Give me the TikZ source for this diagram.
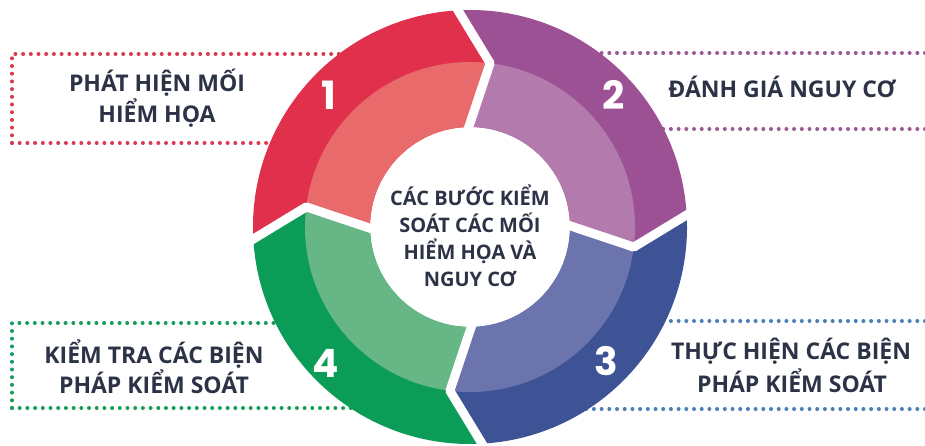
\documentclass[tikz,border=0pt]{standalone}
\usepackage{fontspec}
\setmainfont{Open Sans}
\newfontfamily\numfont{Poppins}
\definecolor{reddark}{HTML}{E0304C}
\definecolor{redlight}{HTML}{E86A6A}
\definecolor{purpdark}{HTML}{9C5194}
\definecolor{purplight}{HTML}{B37BAD}
\definecolor{bluedark}{HTML}{3E5396}
\definecolor{bluelight}{HTML}{6C74AD}
\definecolor{greendark}{HTML}{0B9D58}
\definecolor{greenlight}{HTML}{67B686}
\definecolor{reddot}{HTML}{D93A50}
\definecolor{purpdot}{HTML}{9C5A95}
\definecolor{bluedot}{HTML}{4C7FB4}
\definecolor{greendot}{HTML}{159E5B}
\definecolor{textcol}{HTML}{2C3346}
\begin{document}
\begin{tikzpicture}[x=1pt,y=1pt,
  dotline/.style={line width=4pt, dash pattern=on 0pt off 7.7pt, line cap=round},
  lbl/.style={font=\fontsize{23}{27}\selectfont\bfseries, text=textcol, anchor=base, inner sep=0pt},
  ctr/.style={font=\fontsize{20}{24}\selectfont\bfseries, text=textcol, anchor=base, inner sep=0pt},
  num/.style={font=\numfont\fontsize{39}{40}\selectfont\bfseries, text=white, anchor=base, inner sep=0pt},
  gapline/.style={white, line width=9pt, line join=round}]
\useasboundingbox (0,0) rectangle (925,445);
\clip (0,0) rectangle (925,445);
\fill[white] (0,0) rectangle (925,445);
% dotted boxes
\draw[dotline, reddot] (12,302) -- (12,391) -- (400,391);
\draw[dotline, reddot] (12,302) -- (400,302);
\draw[dotline, purpdot] (540,392) -- (930,392);
\draw[dotline, purpdot] (540,316) -- (930,316);
\draw[dotline, greendot] (12,37) -- (12,122) -- (400,122);
\draw[dotline, greendot] (12,37) -- (400,37);
\draw[dotline, bluedot] (540,124) -- (930,124);
\draw[dotline, bluedot] (540,36) -- (930,36);
% ring
\begin{scope}[shift={(470,218)}]
\foreach \s/\e/\dk/\lt in {184/94/reddark/redlight, 94/4/purpdark/purplight, 4/-86/bluedark/bluelight, 274/184/greendark/greenlight}{
  \fill[\dk] (\s:217) arc[start angle=\s, end angle=\e, radius=217] -- ({\e-11}:165) -- ({\e-2}:100) arc[start angle={\e-2}, end angle={\s-2}, radius=100] -- ({\s-11}:165) -- cycle;
  \begin{scope}
    \clip (0,0) circle (165);
    \fill[\lt] (\s:217) arc[start angle=\s, end angle=\e, radius=217] -- ({\e-11}:165) -- ({\e-2}:100) arc[start angle={\e-2}, end angle={\s-2}, radius=100] -- ({\s-11}:165) -- cycle;
  \end{scope}
}
\foreach \a in {94,4,-86,184}{
  \draw[gapline] (\a:223) -- ({\a-11}:165) -- ({\a-2}:94);
}
\end{scope}
% numbers
\node[num] (n1) at (329,335) {1};
\node[num] (n2) at (614,335) {2};
\node[num] (n3) at (606,70) {3};
\node[num] (n4) at (326,68) {4};
% centre text
\node[ctr] (c1) at (470,240) {CÁC BƯỚC KIỂM};
\node[ctr] (c2) at (470,213) {SOÁT CÁC MỐI};
\node[ctr] (c3) at (470,186) {HIỂM HỌA VÀ};
\node[ctr] (c4) at (470,159) {NGUY CƠ};
% side labels
\node[lbl] (tl1) at (157,353) {PHÁT HIỆN MỐI};
\node[lbl] (tl2) at (157,322) {HIỂM HỌA};
\node[lbl] (tr1) at (782,347) {ĐÁNH GIÁ NGUY CƠ};
\node[lbl] (bl1) at (154,82) {KIỂM TRA CÁC BIỆN};
\node[lbl] (bl2) at (154,52) {PHÁP KIỂM SOÁT};
\node[lbl] (br1) at (791,86) {THỰC HIỆN CÁC BIỆN};
\node[lbl] (br2) at (792,53) {PHÁP KIỂM SOÁT};
\end{tikzpicture}
\end{document}
